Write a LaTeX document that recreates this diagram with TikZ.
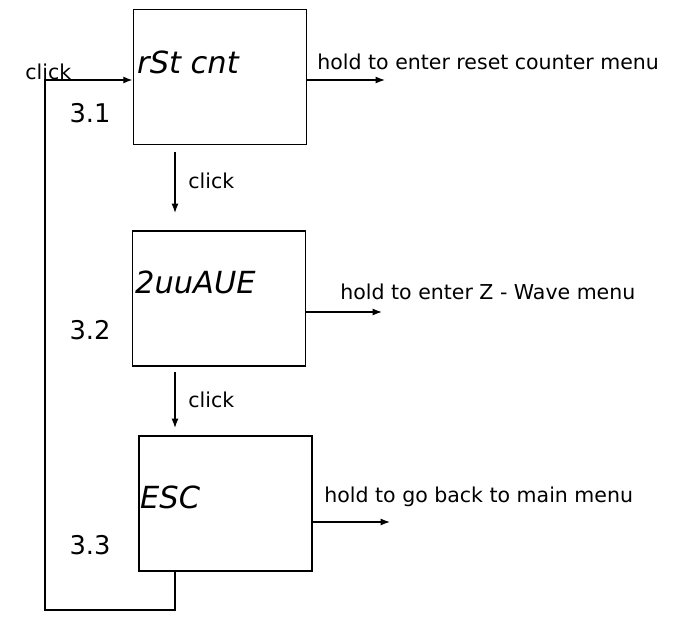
\documentclass[tikz,border=0pt]{standalone}
\usepackage{fontspec}
\setmainfont{DejaVu Sans}
\usetikzlibrary{positioning,arrows.meta}
\tikzset{
  screen/.style={draw, line width=1.2pt, minimum width=5.2cm, minimum height=4.05cm},
  lcd/.style={anchor=west, font=\fontsize{26}{28}\selectfont\itshape, inner sep=0pt},
  stepno/.style={font=\fontsize{22}{24}\selectfont},
  note/.style={anchor=west, font=\fontsize{17.5}{20}\selectfont, inner sep=1pt},
  flow/.style={line width=1.2pt, -{Latex[length=8pt,width=6pt]}}
}
\begin{document}
\begin{tikzpicture}[x=0.03cm, y=-0.03cm]
\useasboundingbox (0,0) rectangle (686,644);
% screens
\node[screen] (rst) at (220,77) {};
\node[screen] (zw) at (219,298.5) {};
\node[screen] (esc) at (225.5,503.5) {};
\node[lcd] at (137,62) {rSt cnt};
\node[lcd] at (135,282) {2uuAUE};
\node[lcd] at (140,497) {ESC};
\node[stepno] (n1) at (90,113) {3.1};
\node[stepno] (n2) at (90,330) {3.2};
\node[stepno] (n3) at (90,545) {3.3};
% hold actions
\coordinate (h1) at (385,80);
\coordinate (h2) at (382,312);
\coordinate (h3) at (390,522);
\draw[flow] (rst.east |- h1) -- (h1);
\draw[flow] (zw.east |- h2) -- (h2);
\draw[flow] (esc.east |- h3) -- (h3);
\node[note] at (316,62) {hold to enter reset counter menu};
\node[note] at (339,292) {hold to enter Z - Wave menu};
\node[note] at (323,497) {hold to go back to main menu};
% clicks
\coordinate (c1) at (175,152);
\coordinate (c2) at (175,372);
\draw[flow] (c1) -- (c1 |- 0,213);
\draw[flow] (c2) -- (c2 |- 0,428);
\node[note] at (187,181) {click};
\node[note] at (187,400) {click};
% loop back
\coordinate (b) at (175,610);
\coordinate (l) at (45,610);
\draw[flow] (esc.south -| b) -- (b) -- (l) -- (l |- 0,80) -- (rst.west |- 0,80);
\node[note] at (24,72) {click};
\end{tikzpicture}
\end{document}
